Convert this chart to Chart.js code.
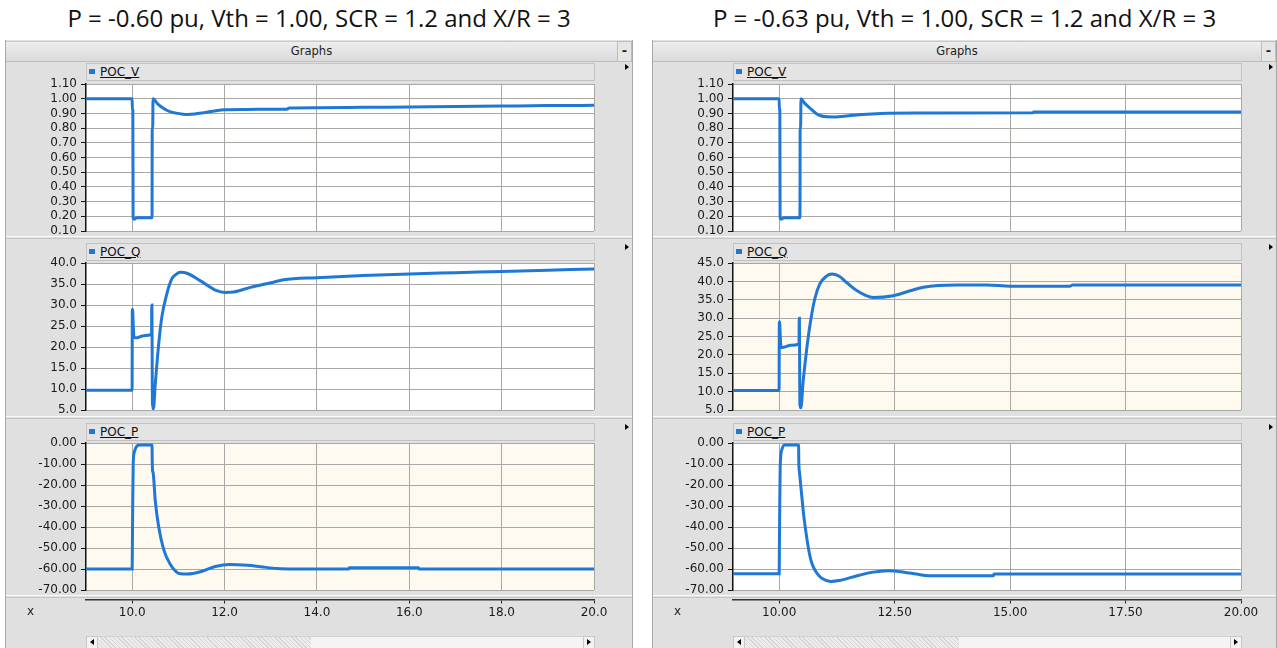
<!DOCTYPE html>
<html><head><meta charset="utf-8">
<script src="https://cdn.jsdelivr.net/npm/chart.js@4.4.1/dist/chart.umd.min.js"></script>
<style>
html,body{margin:0;padding:0;background:#fff;}
body{width:1277px;height:648px;position:relative;overflow:hidden;font-family:"DejaVu Sans",sans-serif;}
.a{position:absolute;box-sizing:border-box;}
.title{font-family:"Open Sans","Liberation Sans",sans-serif;font-size:24px;color:#111;text-align:center;white-space:nowrap;line-height:34px;}
.panel{background:#e0e0e0;border-left:1px solid #a8a8a8;border-right:1px solid #a8a8a8;}
.gbar{background:linear-gradient(#eeeeee,#dadada);border-top:1px solid #cacaca;border-bottom:1px solid #bdbdbd;font-size:11.5px;color:#222;text-align:center;line-height:19px;}
.minus{background:#e6e6e6;border:1px solid #bdbdbd;font-size:13px;font-weight:bold;text-align:center;line-height:17px;color:#222;}
.leg{background:#e4e4e4;border:1px solid #c2c2c2;}
.legsq{background:#1f78d6;}
.legtx{font-size:12px;color:#111;text-decoration:underline;white-space:nowrap;line-height:16px;}
.tri{width:0;height:0;border-top:3.5px solid transparent;border-bottom:3.5px solid transparent;border-left:4px solid #000;}
.tril{width:0;height:0;border-top:3.5px solid transparent;border-bottom:3.5px solid transparent;border-right:4px solid #000;}
.sep{height:3px;border-top:1px solid #fbfbfb;border-bottom:1px solid #c6c6c6;}
.xlab{font-size:12px;color:#222;line-height:16px;}
.sb{background:#f4f4f4;border:1px solid #d2d2d2;}
.sbtn{background:#f2f2f2;border:1px solid #c8c8c8;}
.thumb{background-color:#ececec;background-image:repeating-linear-gradient(45deg,#d6d6d6 0 1px,transparent 1px 3px);}
canvas{position:absolute;}
</style></head><body>
<script>
// ---------- DATA ----------
const titleL = "P = -0.60 pu, Vth = 1.00, SCR = 1.2 and X/R = 3";
const titleR = "P = -0.63 pu, Vth = 1.00, SCR = 1.2 and X/R = 3";
const seriesNames = ["POC_V", "POC_Q", "POC_P"];
const xMin = 9, xMax = 20;
const xTicksL = [10, 12, 14, 16, 18, 20];
const xTicksR = [10, 12.5, 15, 17.5, 20];
const vTicks = [0.1, 0.2, 0.3, 0.4, 0.5, 0.6, 0.7, 0.8, 0.9, 1.0, 1.1];
const qTicksL = [5, 10, 15, 20, 25, 30, 35, 40];
const qTicksR = [5, 10, 15, 20, 25, 30, 35, 40, 45];
const pTicks = [-70, -60, -50, -40, -30, -20, -10, 0];

// Left case (P = -0.60 pu)
const vTimeL = [9, 10.0, 10.004, 10.014, 10.02, 10.05, 10.1, 10.43, 10.434, 10.444, 10.452, 10.55, 10.7, 10.82, 10.95, 11.1, 11.2, 11.35, 11.55, 11.75, 12.0, 12.5, 13.0, 13.35, 13.4, 14.0, 15.0, 16.0, 17.0, 18.0, 19.0, 20.0];
const vValL  = [1.00, 1.00, 0.92, 0.92, 0.19, 0.18, 0.19, 0.19, 0.80, 0.80, 1.00, 0.965, 0.93, 0.912, 0.902, 0.895, 0.893, 0.896, 0.905, 0.915, 0.925, 0.927, 0.928, 0.929, 0.936, 0.938, 0.941, 0.944, 0.947, 0.950, 0.953, 0.955];
const qTimeL = [9, 9.998, 10.003, 10.012, 10.022, 10.04, 10.1, 10.25, 10.42, 10.423, 10.428, 10.434, 10.44, 10.446, 10.452, 10.462, 10.495, 10.567, 10.64, 10.749, 10.857, 10.95, 11.04, 11.2, 11.47, 11.83, 12.0, 12.2, 12.56, 13.0, 13.28, 14.0, 15.0, 16.0, 17.0, 18.0, 19.0, 20.0];
const qValL  = [9.7, 9.7, 29.0, 28.5, 25.5, 22.3, 22.2, 22.7, 23.0, 30.0, 30.0, 14.0, 6.0, 10.5, 5.5, 5.3, 10.4, 19.9, 27.0, 32.6, 36.2, 37.3, 37.8, 37.5, 35.8, 33.4, 33.0, 33.1, 34.2, 35.3, 36.0, 36.5, 37.0, 37.4, 37.7, 38.0, 38.3, 38.6];
const pTimeL = [9, 10.0, 10.004, 10.012, 10.022, 10.05, 10.1, 10.15, 10.43, 10.434, 10.44, 10.452, 10.5, 10.57, 10.68, 10.82, 10.95, 11.05, 11.2, 11.48, 11.8, 12.1, 12.5, 12.78, 13.14, 13.5, 14.69, 14.7, 16.2, 16.21, 20];
const pValL  = [-60, -60, -50, -28, -10, -4, -1.5, -1, -1, -8, -13, -14, -27.5, -39.4, -50.5, -57.6, -61.2, -62.3, -62.4, -61.3, -58.8, -57.8, -58.2, -58.9, -59.8, -60, -60, -59.4, -59.4, -60, -60];

// Right case (P = -0.63 pu)
const vTimeR = [9, 10.0, 10.004, 10.014, 10.02, 10.05, 10.1, 10.45, 10.454, 10.464, 10.472, 10.55, 10.67, 10.8, 10.9, 11.03, 11.2, 11.5, 11.8, 12.2, 13.0, 15.5, 15.51, 20];
const vValR  = [1.00, 1.00, 0.92, 0.92, 0.19, 0.18, 0.19, 0.19, 0.80, 0.80, 1.00, 0.97, 0.935, 0.90, 0.884, 0.877, 0.876, 0.884, 0.893, 0.900, 0.903, 0.905, 0.909, 0.910];
const qTimeR = [9, 9.998, 10.003, 10.012, 10.022, 10.04, 10.1, 10.25, 10.43, 10.433, 10.438, 10.444, 10.45, 10.456, 10.462, 10.47, 10.52, 10.6, 10.67, 10.77, 10.88, 11.03, 11.14, 11.3, 11.46, 11.68, 11.85, 12.04, 12.47, 12.8, 13.12, 13.84, 14.5, 15.0, 16.3, 16.35, 20];
const qValR  = [10.3, 10.3, 29.0, 28.5, 25.5, 22.0, 22.1, 22.6, 23.0, 30.0, 30.0, 14.0, 6.0, 10.5, 5.7, 5.6, 12.9, 22.0, 28.4, 35.2, 39.3, 41.5, 42.0, 41.4, 39.7, 37.5, 36.3, 35.6, 36.1, 37.3, 38.4, 39.0, 39.0, 38.7, 38.7, 39.0, 39.0];
const pTimeR = [9, 10.0, 10.004, 10.012, 10.022, 10.06, 10.12, 10.42, 10.424, 10.43, 10.44, 10.51, 10.55, 10.68, 10.86, 11.0, 11.12, 11.3, 11.56, 12.0, 12.36, 12.7, 12.97, 13.23, 14.64, 14.65, 20];
const pValR  = [-62.3, -62.3, -52, -30, -11, -3, -1, -1, -8, -12, -14, -30, -37.8, -55.2, -63.2, -65.3, -65.9, -65.5, -64, -61.6, -60.8, -61.5, -62.4, -63.2, -63.2, -62.4, -62.4];

// ---------- STYLE / LAYOUT ----------
const LINE = 'rgb(31,120,214)';
const GRID = '#a9a8a4';
const CREAM = '#fffaf0';
const WHITE = '#ffffff';
const Y_AXIS_W = 80, PAD_R = 20, PAD_V = 12, AREA_H = 147;
const areaTops = [84, 263, 443];
const legTops = [63, 243, 423];

Chart.defaults.font.family = '"DejaVu Sans", sans-serif';
Chart.defaults.font.size = 12;
Chart.defaults.color = '#1a1a1a';

const areaBg = {
  id: 'areaBg',
  beforeDraw(c, a, o) {
    if (!o || !o.color) return;
    const ca = c.chartArea, ctx = c.ctx;
    ctx.save(); ctx.fillStyle = o.color;
    ctx.fillRect(ca.left, ca.top, ca.right - ca.left, ca.bottom - ca.top);
    ctx.restore();
  }
};

function el(cls, x, y, w, h, text) {
  const d = document.createElement('div');
  d.className = 'a ' + cls;
  d.style.left = x + 'px'; d.style.top = y + 'px';
  if (w != null) d.style.width = w + 'px';
  if (h != null) d.style.height = h + 'px';
  if (text != null) d.textContent = text;
  document.body.appendChild(d);
  return d;
}

function makeCanvas(x, y, w, h) {
  const c = document.createElement('canvas');
  c.width = w; c.height = h;
  c.style.left = x + 'px'; c.style.top = y + 'px';
  c.style.width = w + 'px'; c.style.height = h + 'px';
  document.body.appendChild(c);
  return c;
}

function makePlot(cx, areaTop, times, vals, yTicks, dec, xTicks, bg) {
  const c = makeCanvas(cx, areaTop - PAD_V, Y_AXIS_W + 508 + PAD_R, AREA_H + 2 * PAD_V);
  new Chart(c, {
    type: 'line',
    data: { datasets: [{
      data: times.map((t, i) => ({ x: t, y: vals[i] })),
      borderColor: LINE, borderWidth: 3, pointRadius: 0,
      cubicInterpolationMode: 'monotone', fill: false
    }]},
    plugins: [areaBg],
    options: {
      responsive: false, animation: false, devicePixelRatio: 1,
      layout: { padding: { top: PAD_V, bottom: PAD_V, left: 0, right: PAD_R } },
      plugins: { legend: { display: false }, tooltip: { enabled: false }, areaBg: { color: bg } },
      scales: {
        x: {
          type: 'linear', min: xMin, max: xMax,
          afterBuildTicks: s => { s.ticks = xTicks.map(v => ({ value: v })); },
          ticks: { display: false },
          grid: { color: GRID, lineWidth: 1, drawTicks: false },
          border: { display: false }
        },
        y: {
          type: 'linear', min: yTicks[0], max: yTicks[yTicks.length - 1],
          afterBuildTicks: s => { s.ticks = yTicks.map(v => ({ value: v })); },
          afterFit: s => { s.width = Y_AXIS_W; },
          ticks: { callback: v => Number(v).toFixed(dec), padding: 4, color: '#1a1a1a', autoSkip: false },
          grid: { color: GRID, lineWidth: 1, tickLength: 5, tickColor: '#111' },
          border: { display: true, color: '#111', width: 1.5 }
        }
      }
    }
  });
}

function makeXAxis(cx, xTicks, dec) {
  const c = makeCanvas(cx, 579, Y_AXIS_W + 508 + PAD_R, 41);
  new Chart(c, {
    type: 'line',
    data: { datasets: [] },
    options: {
      responsive: false, animation: false, devicePixelRatio: 1,
      layout: { padding: { top: 0, bottom: 0, left: Y_AXIS_W, right: PAD_R } },
      plugins: { legend: { display: false }, tooltip: { enabled: false } },
      scales: {
        x: {
          type: 'linear', min: xMin, max: xMax, position: 'bottom',
          afterBuildTicks: s => { s.ticks = xTicks.map(v => ({ value: v })); },
          ticks: { callback: v => Number(v).toFixed(dec), padding: 2, color: '#1a1a1a', maxRotation: 0, autoSkip: false },
          grid: { drawOnChartArea: false, tickLength: 4, tickColor: '#222' },
          border: { display: true, color: '#333', width: 1.5 }
        },
        y: { display: false, min: 0, max: 1 }
      }
    }
  });
}

function buildPanel(PL, W, title, xTicks, xDec, seriesT, seriesV, qTicks, bgs, thumbA, thumbB) {
  el('panel', PL, 40, W, 608);
  el('title', PL, 1, W, 34, title);
  el('gbar', PL + 1, 41, W - 17, 21, 'Graphs');
  el('minus', PL + W - 16, 41, 15, 21, '-');
  const plotLeft = PL + 1 + Y_AXIS_W;
  const yT = [vTicks, qTicks, pTicks];
  const decs = [2, 1, 2];
  for (let i = 0; i < 3; i++) {
    el('leg', plotLeft, legTops[i], 509, 18);
    el('legsq', plotLeft + 3, legTops[i] + 6, 6, 5);
    el('legtx', plotLeft + 14, legTops[i] + 1, null, 16, seriesNames[i]);
    el('tri', PL + W - 8, legTops[i] + 1);
  }
  el('sep', PL + 1, 236, W - 2, 3);
  el('sep', PL + 1, 416, W - 2, 3);
  el('sep', PL + 1, 595, W - 2, 3);
  for (let i = 0; i < 3; i++) {
    makePlot(PL + 1, areaTops[i], seriesT[i], seriesV[i], yT[i], decs[i], xTicks, bgs[i]);
  }
  makeXAxis(PL + 1, xTicks, xDec);
  el('xlab', PL + 22, 603, null, 16, 'x');
  el('sb', plotLeft, 636, 509, 13);
  el('thumb', thumbA, 637, thumbB - thumbA, 11);
  el('sbtn', plotLeft, 636, 12, 13);
  el('sbtn', plotLeft + 497, 636, 12, 13);
  el('tril', plotLeft + 4, 639);
  el('tri', plotLeft + 501, 639);
}

buildPanel(5, 628, titleL, xTicksL, 1,
  [vTimeL, qTimeL, pTimeL], [vValL, qValL, pValL], qTicksL, [WHITE, WHITE, CREAM], 98, 311);
buildPanel(652, 625, titleR, xTicksR, 2,
  [vTimeR, qTimeR, pTimeR], [vValR, qValR, pValR], qTicksR, [WHITE, CREAM, WHITE], 745, 959);
</script>
</body></html>
